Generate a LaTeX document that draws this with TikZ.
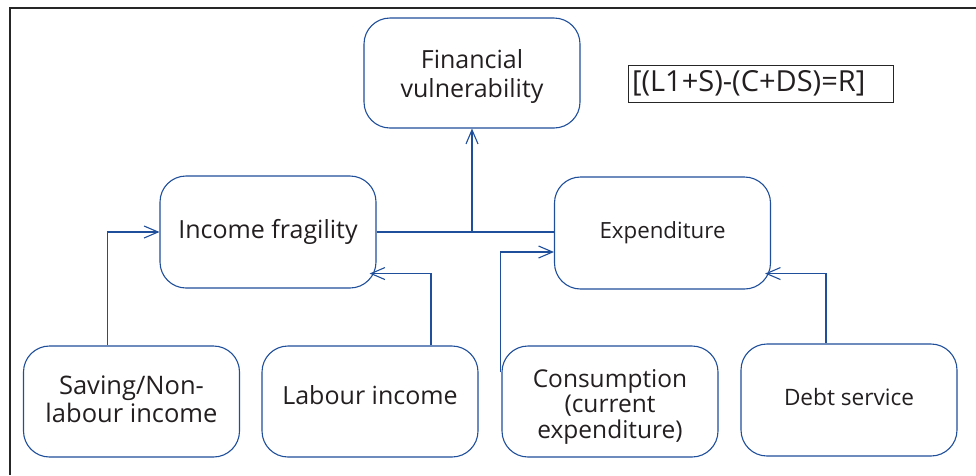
\documentclass[tikz,border=0pt]{standalone}
\usepackage{fontspec}
\setmainfont{Open Sans}
\usetikzlibrary{arrows.meta,calc}
\definecolor{bl}{HTML}{1F4E9A}
\definecolor{tx}{HTML}{231F20}
\newcommand\boxtext[2]{\raisebox{#1}[\height][\depth]{\begin{tabular}{@{}c@{}}#2\end{tabular}}}
\begin{document}
\begin{tikzpicture}[x=1pt,y=-1pt,
  box/.style={draw=bl, line width=1.1pt, rounded corners=26pt, minimum width=216pt, minimum height=111pt, inner sep=0pt, align=center, text=tx},
  conn/.style={draw=bl, line width=1.1pt},
  arr/.style={conn, -{Straight Barb[length=14pt,width=12pt,line width=1.1pt]}}]
\useasboundingbox (0,0) rectangle (976,475);
\draw[line width=2pt, draw=black!85] (976,8) -- (10,8) -- (10,475);

\node[box, minimum height=110pt, font=\fontsize{25}{29}\selectfont] (fv) at (472,73) {\boxtext{-3.7pt}{Financial\\vulnerability}};
\node[draw=black!85, line width=1pt, text width=257pt, align=left, inner xsep=4pt, inner ysep=0pt, minimum height=37pt, text=tx, font=\fontsize{29}{29}\selectfont] (eq) at (760.5,83.5) {[(L1+S)-(C+DS)=R]};

\node[box, minimum height=112pt, font=\fontsize{25}{25}\selectfont] (if) at (268,232) {\boxtext{-1pt}{Income fragility}};
\node[box, minimum height=112pt, font=\fontsize{22.3}{22}\selectfont] (exp) at (662.5,233) {\boxtext{0pt}{Expenditure}};

\node[box, font=\fontsize{25.5}{27}\selectfont] (sav) at (131.5,401.5) {\boxtext{-1.6pt}{Saving/Non-\\labour income}};
\node[box, font=\fontsize{25}{25}\selectfont] (lab) at (370,401.5) {\boxtext{2.5pt}{Labour income}};
\node[box, font=\fontsize{24.5}{24.5}\selectfont] (cons) at (610,401.5) {\boxtext{-6pt}{Consumption\\(current\\expenditure)}};
\node[box, minimum height=112pt, font=\fontsize{22.6}{22}\selectfont] (debt) at (849,400) {\boxtext{0pt}{Debt service}};

\draw[conn] (if.east) -- (exp.west |- if.east);
\coordinate (j) at (fv.south |- if.east);
\draw[arr] (j) -- (fv.south);

\draw[arr] ($(sav.north)+(-24,0)$) |- (if.west);
\draw[arr] ($(lab.north)+(61,0)$) |- ($(if.south east)+(-7,-15)$);
\draw[arr] ($(cons.north west)+(-1,27)$) |- ($(exp.west)+(0,19)$);
\draw[arr] ($(debt.north)+(-23,0)$) |- ($(exp.south east)+(-6,-16)$);
\end{tikzpicture}
\end{document}
